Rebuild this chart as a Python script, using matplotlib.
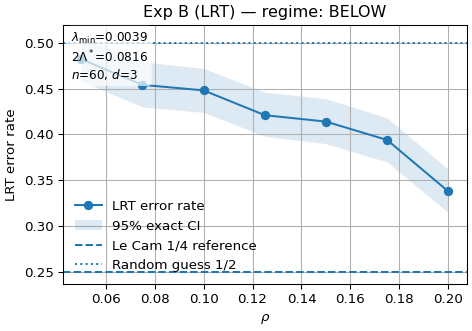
import numpy as np
import matplotlib
matplotlib.use("Agg")
import matplotlib.pyplot as plt

rho = [0.05, 0.075, 0.1, 0.125, 0.15, 0.175, 0.2]
err = [0.482, 0.454, 0.448, 0.421, 0.414, 0.394, 0.338]
ci_lo = [0.458, 0.430, 0.424, 0.398, 0.390, 0.370, 0.315]
ci_hi = [0.506, 0.479, 0.472, 0.446, 0.439, 0.418, 0.362]
lecam = 0.25
guess = 0.5

dpi = 96
fig, ax = plt.subplots(figsize=(472 / dpi, 331 / dpi), dpi=dpi)
ax.plot(rho, err, "o-", color="C0", label="LRT error rate")
ax.fill_between(rho, ci_lo, ci_hi, color="C0", alpha=0.15, linewidth=0, label="95% exact CI")
ax.axhline(lecam, color="C0", linestyle="--", label="Le Cam 1/4 reference")
ax.axhline(guess, color="C0", linestyle=":", label="Random guess 1/2")
ax.set_xlabel(r"$\rho$")
ax.set_ylabel("LRT error rate")
ax.set_title("Exp B (LRT) — regime: BELOW")
ax.grid(True)
ax.legend(loc="lower left", frameon=False)
ax.text(0.02, 0.98, "$\\lambda_{\\min}$=0.0039\n$2\\Lambda^*$=0.0816\n$n$=60, $d$=3",
        transform=ax.transAxes, va="top", ha="left", fontsize=9, zorder=5,
        bbox=dict(boxstyle="round", facecolor="white", alpha=0.7, edgecolor="none"))
fig.tight_layout(pad=0.4)
fig.savefig("out.png", dpi=dpi)
